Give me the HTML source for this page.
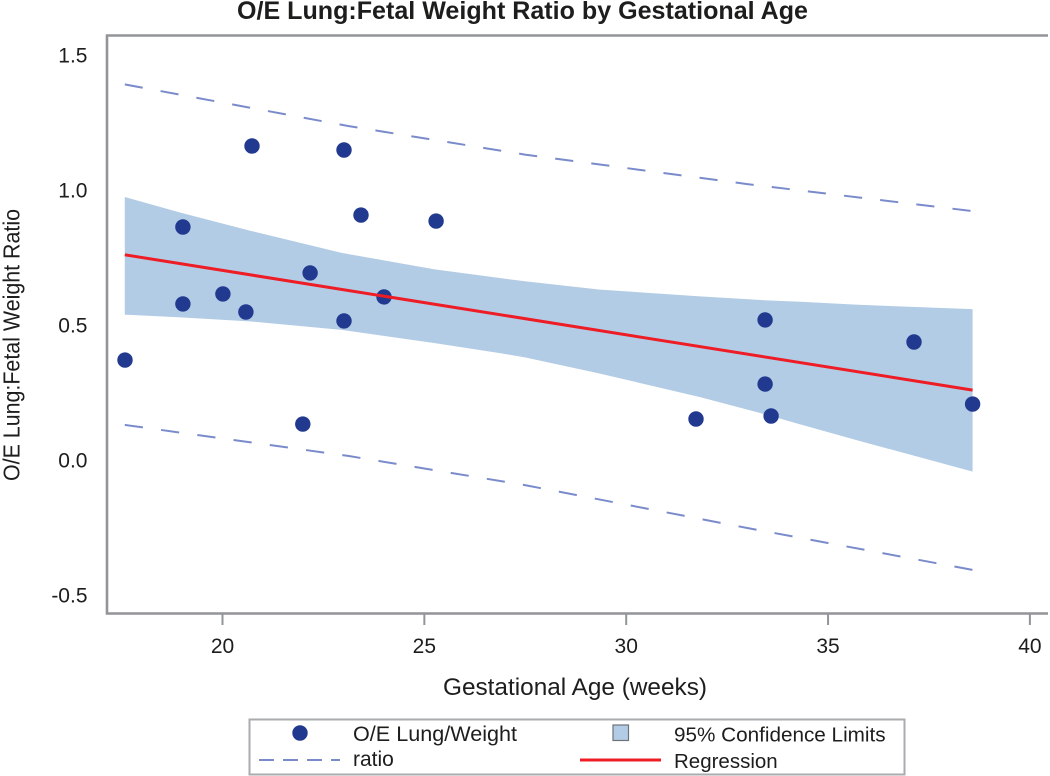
<!DOCTYPE html>
<html>
<head>
<meta charset="utf-8">
<title>O/E Lung:Fetal Weight Ratio by Gestational Age</title>
<style>
html,body{margin:0;padding:0;background:#fff;}
svg{display:block;font-family:"Liberation Sans",sans-serif;}
</style>
</head>
<body>
<svg id="chart" width="1050" height="776" viewBox="0 0 1050 776" xmlns="http://www.w3.org/2000/svg">
  <rect width="1050" height="776" fill="#fff"/>
  <text x="237" y="19" textLength="571" lengthAdjust="spacingAndGlyphs" font-size="25" font-weight="bold" fill="#1d1d1b">O/E Lung:Fetal Weight Ratio by Gestational Age</text>
  <g id="marks"></g>
  <path d="M1048 35.5H107V613.500H1048" fill="none" stroke="#929497" stroke-width="2.600"/>
  <g id="axes"></g>
  <text x="443" y="695" textLength="264" lengthAdjust="spacingAndGlyphs" font-size="24.400" fill="#1d1d1b">Gestational Age (weeks)</text>
  <text transform="translate(19.500 481) rotate(-90)" textLength="272" lengthAdjust="spacingAndGlyphs" font-size="23" fill="#1d1d1b">O/E Lung:Fetal Weight Ratio</text>
  <g>
    <rect x="249.500" y="719.500" width="655" height="55" fill="#fff" stroke="#a9abad" stroke-width="2"/>
    <circle cx="300" cy="733" r="7.700" fill="#21398f"/>
    <text x="353" y="741" font-size="21.600" fill="#1d1d1b">O/E Lung/Weight</text>
    <line x1="259" y1="760" x2="340" y2="760" stroke="#7a8bcb" stroke-width="2" stroke-dasharray="15 9"/>
    <text x="353" y="766" font-size="21" fill="#1d1d1b">ratio</text>
    <rect x="613" y="725" width="15.500" height="15.500" fill="#b3cce5" stroke="#6f7377" stroke-width="1.200"/>
    <text x="674" y="741.500" font-size="20.700" fill="#1d1d1b">95% Confidence Limits</text>
    <line x1="580" y1="760" x2="661" y2="760" stroke="#ee1c25" stroke-width="3"/>
    <text x="674" y="768" font-size="20.500" fill="#1d1d1b">Regression</text>
  </g>
</svg>
<script>
var xTicks = [20, 25, 30, 35, 40];
var yTicks = ["-0.5", "0.0", "0.5", "1.0", "1.5"];
var pointAges = [17.585, 19.02, 19.02, 20.01, 20.58, 20.73, 22.17, 21.99, 23.01, 23.01, 23.43, 24.0, 25.29, 31.73, 33.44, 33.44, 33.59, 37.13, 38.58];
var pointRatios = [0.37, 0.863, 0.578, 0.615, 0.548, 1.163, 0.693, 0.133, 1.148, 0.515, 0.907, 0.604, 0.885, 0.152, 0.519, 0.281, 0.163, 0.437, 0.207];
var bandAges = [17.58, 18.97, 20.71, 22.95, 25.26, 26.87, 27.49, 29.35, 31.83, 33.49, 34.31, 35.75, 38.58];
var bandUpper = [0.974, 0.916, 0.848, 0.767, 0.706, 0.674, 0.662, 0.631, 0.606, 0.591, 0.586, 0.575, 0.559];
var bandLower = [0.538, 0.528, 0.513, 0.482, 0.433, 0.396, 0.380, 0.320, 0.233, 0.167, 0.132, 0.072, -0.043];
var regressionAges = [17.58, 38.58];
var regressionValues = [0.76, 0.259];
var predictionAges = [17.58, 23.11, 27.49, 33, 38.58];
var predictionUpper = [1.391, 1.237, 1.131, 1.022, 0.922];
var predictionLower = [0.130, 0.015, -0.093, -0.252, -0.407];

var NS = 'http://www.w3.org/2000/svg';
function xScale(v) { return 222.5 + (v - 20) * 40.37; }
function yScale(v) { return 460 - v * 270; }
function make(parent, tag, attrs) {
  var el = document.createElementNS(NS, tag);
  for (var k in attrs) el.setAttribute(k, attrs[k]);
  parent.appendChild(el);
  return el;
}
function pointList(xs, ys) {
  return xs.map(function (x, i) { return xScale(x).toFixed(1) + ',' + yScale(ys[i]).toFixed(1); });
}
var marks = document.getElementById('marks');
var axes = document.getElementById('axes');

var band = make(marks, 'polygon', {
  points: pointList(bandAges, bandUpper).concat(pointList(bandAges, bandLower).reverse()).join(' '),
  fill: '#b3cce5'
});



var upperLine = make(marks, 'polyline', {
  points: pointList(predictionAges, predictionUpper).join(' '),
  fill: 'none', stroke: '#7a8bcb', 'stroke-width': 2, 'stroke-dasharray': '18.2 18.2'
});



var lowerLine = make(marks, 'polyline', {
  points: pointList(predictionAges, predictionLower).join(' '),
  fill: 'none', stroke: '#7a8bcb', 'stroke-width': 2, 'stroke-dasharray': '18.3 18.3'
});



pointAges.forEach(function (age, i) {
  var dot = make(marks, 'circle', {
    cx: xScale(age).toFixed(1), cy: yScale(pointRatios[i]).toFixed(1), r: 7.7, fill: '#21398f'
  });
  
  
});

var regression = make(marks, 'polyline', {
  points: pointList(regressionAges, regressionValues).join(' '),
  fill: 'none', stroke: '#ee1c25', 'stroke-width': 3
});



xTicks.forEach(function (t) {
  var px = xScale(t);
  var tick = make(axes, 'line', { x1: px, x2: px, y1: 614, y2: 625, stroke: '#929497', 'stroke-width': 2 });
  
  
  var label = make(axes, 'text', { x: px, y: 653, 'text-anchor': 'middle', 'font-size': 21, fill: '#1d1d1b' });
  
  
  label.textContent = t;
});
yTicks.forEach(function (t) {
  var label = make(axes, 'text', { x: 87.5, y: yScale(parseFloat(t)) + 7.5, 'text-anchor': 'end', 'font-size': 21, fill: '#1d1d1b' });
  
  
  label.textContent = t;
});
</script>
</body>
</html>
